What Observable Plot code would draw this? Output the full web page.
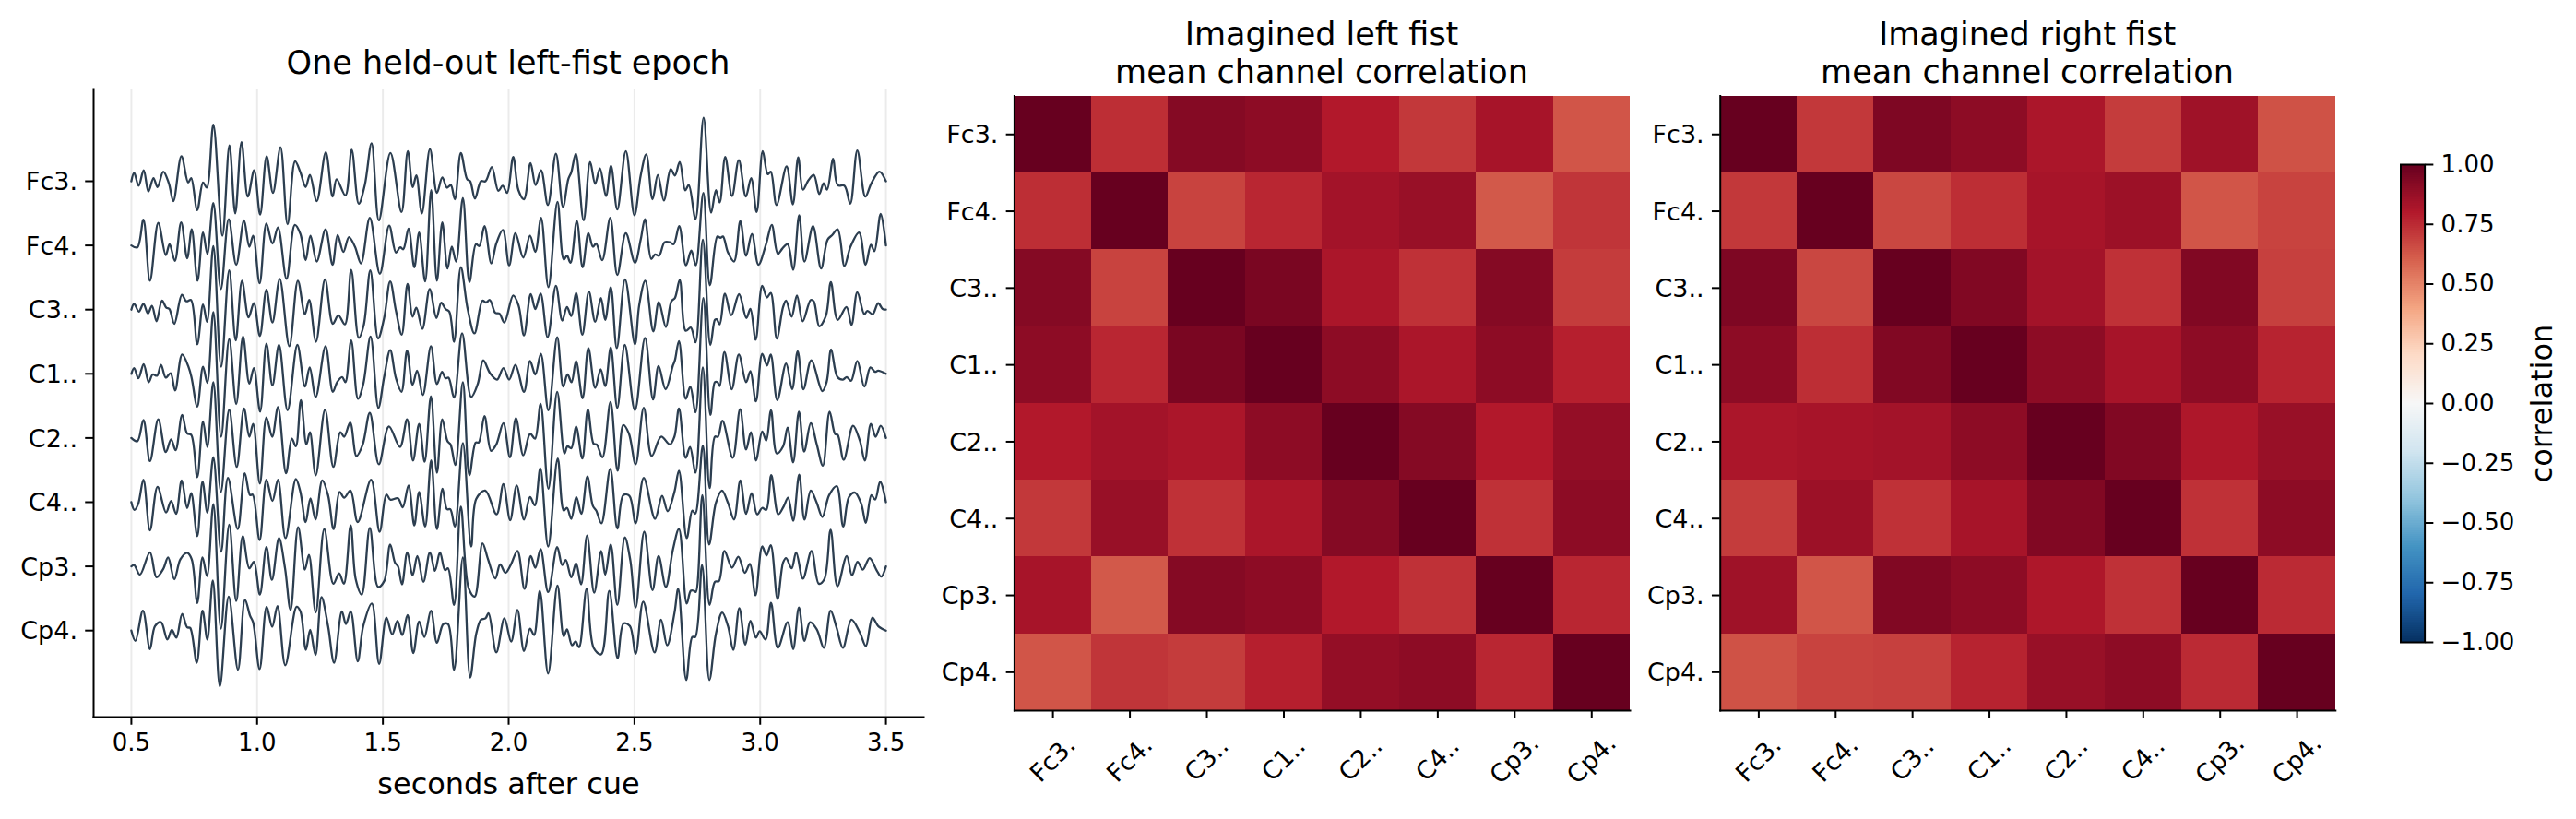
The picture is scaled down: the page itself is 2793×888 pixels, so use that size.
<!DOCTYPE html>
<html><head><meta charset="utf-8">
<script src="https://cdn.jsdelivr.net/npm/d3@7"></script>
<script src="https://cdn.jsdelivr.net/npm/@observablehq/plot@0.6"></script>
<style>
html,body{margin:0;padding:0;background:#fff;overflow:hidden;width:2793px;height:888px;font-family:"DejaVu Sans",sans-serif;color:#000}
.panel{position:absolute;top:0}
.panel svg{display:block;max-width:none;background:transparent;overflow:visible}
.ttl{position:absolute;text-align:center;font-size:35px;line-height:41px;white-space:pre;transform:translateX(-50%)}
</style></head><body>
<script>
const channels = ["Fc3.","Fc4.","C3..","C1..","C2..","C4..","Cp3.","Cp4."];
const secondsTicks = [0.5,1.0,1.5,2.0,2.5,3.0,3.5];
const colorTicks = [1,0.75,0.5,0.25,0,-0.25,-0.5,-0.75,-1];

// Each trace: [seconds after cue, amplitude], 100 amplitude units = one channel spacing
const fc3 = [[.5,0],[.511,13],[.529,-7],[.549,17],[.568,-16],[.588,5],[.604,-9],[.627,15],[.649,-3],[.667,-31],[.699,39],[.726,-2],[.738,5],[.762,-45],[.785,-2],[.8,-10],[.826,88],[.862,-85],[.89,56],[.913,-50],[.938,61],[.963,-24],[.988,17],[1.012,-52],[1.038,39],[1.063,-18],[1.093,53],[1.121,-67],[1.151,31],[1.172,14],[1.193,-9],[1.21,10],[1.237,-31],[1.273,45],[1.3,-24],[1.316,3],[1.351,-22],[1.376,49],[1.404,-35],[1.428,-6],[1.455,59],[1.484,-61],[1.53,44],[1.574,-48],[1.599,47],[1.619,-9],[1.633,9],[1.655,-50],[1.687,50],[1.715,-18],[1.736,6],[1.755,-10],[1.77,-6],[1.786,-28],[1.81,44],[1.835,3],[1.847,0],[1.866,-27],[1.89,0],[1.908,0],[1.933,22],[1.959,-15],[1.976,-7],[1.994,-18],[2.018,38],[2.039,-14],[2.061,-28],[2.087,28],[2.107,-6],[2.129,17],[2.156,-37],[2.188,43],[2.216,-40],[2.237,3],[2.249,14],[2.267,43],[2.298,-61],[2.324,30],[2.344,-4],[2.363,20],[2.387,-23],[2.407,24],[2.432,-44],[2.466,47],[2.5,-53],[2.525,9],[2.547,42],[2.572,-28],[2.593,10],[2.617,-30],[2.644,19],[2.661,9],[2.68,30],[2.702,-14],[2.716,-6],[2.743,-59],[2.775,99],[2.805,-49],[2.824,-14],[2.839,-33],[2.861,38],[2.888,-23],[2.915,33],[2.943,-24],[2.964,5],[2.986,-48],[3.01,47],[3.03,11],[3.042,15],[3.065,-37],[3.105,23],[3.13,-36],[3.151,37],[3.17,-13],[3.191,1],[3.213,10],[3.235,-20],[3.252,-3],[3.266,-13],[3.29,35],[3.308,-6],[3.335,-7],[3.358,-35],[3.386,48],[3.418,-24],[3.442,-3],[3.474,15],[3.5,0]];
const fc4 = [[.5,0],[.524,-3],[.548,40],[.574,-55],[.607,35],[.637,-15],[.652,2],[.673,-24],[.698,36],[.722,-20],[.74,25],[.763,-55],[.785,20],[.802,-13],[.826,66],[.856,-68],[.887,41],[.917,-30],[.948,39],[.969,-2],[.984,15],[1.01,-59],[1.037,34],[1.061,3],[1.083,28],[1.117,-52],[1.15,32],[1.172,18],[1.193,-23],[1.212,15],[1.237,-25],[1.272,25],[1.3,-30],[1.32,16],[1.343,-10],[1.365,13],[1.389,-2],[1.413,-28],[1.448,43],[1.488,-44],[1.525,31],[1.552,-11],[1.569,-3],[1.581,-6],[1.602,26],[1.625,-34],[1.644,20],[1.668,-56],[1.692,86],[1.715,-55],[1.736,36],[1.757,-36],[1.774,-2],[1.791,-25],[1.818,74],[1.844,-57],[1.87,2],[1.883,-1],[1.904,30],[1.931,-28],[1.951,3],[1.977,24],[2.002,-31],[2.027,19],[2.058,-19],[2.085,15],[2.106,-10],[2.129,43],[2.158,-65],[2.194,68],[2.219,-22],[2.232,-16],[2.246,-27],[2.271,38],[2.294,-34],[2.317,19],[2.335,-2],[2.348,3],[2.372,-23],[2.404,43],[2.432,-46],[2.466,19],[2.502,-27],[2.525,9],[2.542,41],[2.567,-21],[2.582,-14],[2.598,-16],[2.62,5],[2.641,5],[2.656,2],[2.678,30],[2.705,-31],[2.726,-8],[2.744,-31],[2.774,82],[2.8,-62],[2.83,14],[2.842,12],[2.852,14],[2.872,-11],[2.896,-25],[2.921,38],[2.944,-16],[2.967,18],[2.993,-30],[3.024,3],[3.046,32],[3.07,-13],[3.088,-5],[3.109,2],[3.131,-38],[3.155,47],[3.176,-25],[3.21,30],[3.242,-36],[3.268,9],[3.286,16],[3.308,25],[3.335,-32],[3.359,-2],[3.393,20],[3.419,-30],[3.44,1],[3.454,-9],[3.479,49],[3.5,0]];
const c3 = [[.5,0],[.511,9],[.53,-3],[.548,9],[.566,-6],[.582,6],[.6,-18],[.622,14],[.639,3],[.651,1],[.671,-22],[.701,23],[.719,13],[.737,15],[.762,-54],[.785,8],[.801,-19],[.826,99],[.857,-89],[.889,61],[.915,-48],[.94,45],[.966,-12],[.987,10],[1.011,-41],[1.037,31],[1.061,-20],[1.09,48],[1.128,-57],[1.162,45],[1.19,-7],[1.207,15],[1.234,-50],[1.27,47],[1.301,-22],[1.323,-9],[1.349,-23],[1.374,62],[1.404,-44],[1.424,-24],[1.45,61],[1.481,-45],[1.505,-13],[1.529,44],[1.552,-2],[1.575,-39],[1.598,40],[1.618,-11],[1.633,3],[1.657,-30],[1.686,32],[1.713,-13],[1.732,11],[1.749,1],[1.764,-3],[1.783,-50],[1.81,66],[1.837,1],[1.864,-37],[1.896,14],[1.91,11],[1.925,15],[1.947,-5],[1.963,-6],[1.983,-20],[2.018,22],[2.039,7],[2.061,-40],[2.088,24],[2.106,1],[2.127,25],[2.155,-43],[2.188,37],[2.213,-17],[2.232,4],[2.249,-10],[2.268,26],[2.293,-39],[2.319,28],[2.344,-19],[2.367,18],[2.384,-16],[2.406,35],[2.43,-60],[2.463,47],[2.502,-54],[2.519,7],[2.543,45],[2.575,-34],[2.597,12],[2.625,-27],[2.647,13],[2.661,18],[2.68,46],[2.704,-33],[2.724,-28],[2.743,-51],[2.772,109],[2.802,-55],[2.82,-16],[2.827,-15],[2.839,-23],[2.86,25],[2.885,-9],[2.916,24],[2.945,-13],[2.961,1],[2.982,-47],[3.008,37],[3.027,19],[3.042,26],[3.066,-45],[3.091,4],[3.103,14],[3.125,-11],[3.146,22],[3.169,-18],[3.201,15],[3.213,13],[3.235,-26],[3.261,-10],[3.281,43],[3.308,-16],[3.343,4],[3.363,-24],[3.386,27],[3.414,-7],[3.426,-2],[3.447,-7],[3.469,10],[3.487,1],[3.5,0]];
const c1 = [[.5,0],[.511,9],[.528,-7],[.549,15],[.569,-13],[.585,-1],[.602,-3],[.618,14],[.637,-6],[.656,1],[.674,-26],[.702,30],[.728,10],[.74,-7],[.762,-51],[.785,11],[.802,-14],[.826,96],[.857,-98],[.889,54],[.917,-47],[.944,58],[.969,-15],[.987,9],[1.012,-59],[1.037,47],[1.061,-18],[1.087,45],[1.121,-57],[1.16,45],[1.19,-20],[1.209,10],[1.233,-36],[1.272,43],[1.301,-28],[1.318,-13],[1.338,-5],[1.351,-13],[1.374,52],[1.401,-39],[1.422,-16],[1.451,58],[1.482,-53],[1.505,-5],[1.529,37],[1.552,-7],[1.574,-28],[1.596,36],[1.618,-17],[1.636,5],[1.659,-33],[1.691,43],[1.715,-16],[1.735,3],[1.749,-7],[1.761,-6],[1.783,-37],[1.815,63],[1.851,-36],[1.877,-16],[1.899,21],[1.926,1],[1.954,-9],[1.979,9],[2.002,-9],[2.027,14],[2.061,-28],[2.085,20],[2.106,-1],[2.128,31],[2.158,-57],[2.193,57],[2.217,-20],[2.234,-1],[2.25,-13],[2.268,20],[2.294,-38],[2.317,40],[2.344,-22],[2.366,7],[2.384,-19],[2.406,41],[2.432,-53],[2.462,45],[2.502,-57],[2.542,56],[2.574,-40],[2.596,12],[2.624,-24],[2.653,13],[2.661,21],[2.677,51],[2.704,-39],[2.722,-20],[2.743,-60],[2.774,118],[2.802,-64],[2.82,-13],[2.83,-13],[2.839,-19],[2.858,34],[2.887,-24],[2.915,30],[2.944,-13],[2.961,4],[2.983,-43],[3.008,31],[3.027,13],[3.042,30],[3.068,-41],[3.103,16],[3.127,-24],[3.149,35],[3.172,-24],[3.203,21],[3.247,-27],[3.264,-13],[3.282,38],[3.307,-5],[3.329,-9],[3.344,-5],[3.361,-11],[3.386,20],[3.414,-20],[3.438,10],[3.457,3],[3.469,5],[3.5,0]];
const c2 = [[.5,0],[.524,-5],[.548,28],[.574,-36],[.607,29],[.637,-22],[.658,-2],[.676,-19],[.702,36],[.722,7],[.738,5],[.762,-61],[.785,26],[.802,-14],[.826,87],[.856,-84],[.889,44],[.919,-45],[.948,46],[.969,2],[.984,22],[1.011,-71],[1.037,32],[1.06,2],[1.083,48],[1.115,-55],[1.138,-1],[1.154,-13],[1.174,59],[1.196,-10],[1.21,9],[1.233,-58],[1.27,44],[1.303,-45],[1.331,9],[1.346,2],[1.37,24],[1.395,-28],[1.42,-10],[1.448,39],[1.484,-41],[1.524,18],[1.568,-14],[1.596,29],[1.62,-35],[1.644,22],[1.666,-37],[1.691,65],[1.715,-54],[1.736,29],[1.757,-5],[1.769,-10],[1.788,-42],[1.818,87],[1.844,-58],[1.869,-7],[1.881,-7],[1.904,34],[1.93,-20],[1.951,-10],[1.979,23],[2.005,-30],[2.029,31],[2.058,-27],[2.082,5],[2.088,6],[2.105,-1],[2.127,53],[2.158,-79],[2.193,72],[2.222,-24],[2.234,-13],[2.249,-16],[2.268,18],[2.293,-32],[2.315,44],[2.338,-9],[2.35,-10],[2.373,-30],[2.405,56],[2.433,-51],[2.456,20],[2.478,7],[2.505,-41],[2.537,47],[2.569,-28],[2.606,2],[2.641,-10],[2.659,2],[2.677,46],[2.704,-31],[2.721,-14],[2.743,-54],[2.772,110],[2.799,-78],[2.82,2],[2.832,2],[2.85,27],[2.891,-31],[2.92,45],[2.944,-18],[2.963,9],[2.983,-35],[3.008,10],[3.024,-4],[3.043,43],[3.066,-24],[3.091,-13],[3.109,16],[3.131,-38],[3.154,41],[3.175,-21],[3.201,23],[3.225,-10],[3.249,-43],[3.276,41],[3.298,6],[3.308,5],[3.332,-34],[3.369,19],[3.396,-4],[3.416,-35],[3.44,22],[3.459,2],[3.479,19],[3.5,0]];
const c4 = [[.5,0],[.512,-12],[.527,-3],[.548,35],[.574,-44],[.604,24],[.638,-16],[.658,2],[.678,-18],[.7,34],[.722,-9],[.738,14],[.762,-53],[.783,32],[.802,-16],[.826,70],[.857,-77],[.884,38],[.923,-42],[.951,45],[.972,11],[.982,12],[1.01,-59],[1.037,35],[1.061,2],[1.083,35],[1.113,-56],[1.154,36],[1.172,16],[1.193,-31],[1.212,6],[1.232,-27],[1.259,34],[1.282,11],[1.304,-42],[1.328,16],[1.346,7],[1.371,18],[1.4,-31],[1.453,35],[1.487,-46],[1.514,12],[1.53,4],[1.56,6],[1.579,-8],[1.602,26],[1.625,-36],[1.644,16],[1.668,-38],[1.692,65],[1.715,-42],[1.737,21],[1.755,-11],[1.768,-11],[1.786,-38],[1.818,92],[1.851,-69],[1.871,5],[1.907,18],[1.952,-19],[1.979,28],[2.006,-28],[2.032,26],[2.061,-27],[2.085,8],[2.104,-5],[2.126,53],[2.157,-69],[2.195,68],[2.219,-13],[2.232,-9],[2.249,-26],[2.269,8],[2.289,-18],[2.313,40],[2.335,-6],[2.348,-13],[2.369,-33],[2.404,52],[2.432,-41],[2.456,11],[2.48,10],[2.505,-33],[2.537,38],[2.582,-26],[2.61,10],[2.632,-14],[2.659,16],[2.677,49],[2.708,-56],[2.73,-13],[2.742,-18],[2.772,88],[2.797,-66],[2.824,-1],[2.848,18],[2.872,-1],[2.896,-27],[2.921,34],[2.944,-18],[2.966,14],[2.988,-19],[3.008,-9],[3.024,-12],[3.044,42],[3.072,-19],[3.093,-7],[3.111,7],[3.131,-29],[3.155,43],[3.176,-27],[3.201,18],[3.225,-1],[3.247,-23],[3.274,11],[3.304,25],[3.33,-38],[3.353,8],[3.377,15],[3.402,-3],[3.42,-32],[3.442,11],[3.457,4],[3.477,32],[3.5,0]];
const cp3 = [[.5,0],[.511,2],[.534,-13],[.574,22],[.6,-17],[.627,-4],[.646,14],[.671,-20],[.695,11],[.722,21],[.74,11],[.762,-57],[.783,14],[.801,-15],[.826,97],[.856,-97],[.889,65],[.917,-54],[.943,47],[.969,-3],[.987,7],[1.011,-44],[1.037,30],[1.059,-21],[1.087,44],[1.111,-3],[1.133,-68],[1.163,61],[1.19,-5],[1.206,18],[1.233,-72],[1.267,58],[1.303,-27],[1.326,-11],[1.345,-27],[1.372,64],[1.392,-20],[1.416,-44],[1.448,60],[1.481,-32],[1.505,-23],[1.529,34],[1.548,6],[1.56,0],[1.576,-28],[1.597,22],[1.618,-14],[1.637,16],[1.661,-24],[1.687,22],[1.707,-7],[1.727,22],[1.747,-6],[1.759,-3],[1.783,-60],[1.81,93],[1.841,-34],[1.865,-47],[1.896,36],[1.918,11],[1.947,-19],[1.966,3],[1.987,-10],[2.008,2],[2.035,24],[2.063,-35],[2.088,16],[2.106,-2],[2.127,27],[2.157,-40],[2.193,30],[2.213,2],[2.227,10],[2.249,-17],[2.268,5],[2.288,-28],[2.312,48],[2.34,-41],[2.368,24],[2.384,-13],[2.406,34],[2.432,-60],[2.462,45],[2.484,9],[2.505,-64],[2.539,54],[2.572,-37],[2.596,16],[2.625,-32],[2.653,26],[2.677,58],[2.708,-58],[2.724,-38],[2.736,-38],[2.744,-40],[2.77,111],[2.799,-60],[2.82,-24],[2.836,-23],[2.858,24],[2.888,-2],[2.913,15],[2.939,-10],[2.959,4],[2.981,-45],[3.008,31],[3.025,17],[3.042,33],[3.069,-51],[3.091,6],[3.103,13],[3.125,-3],[3.143,22],[3.17,-19],[3.204,24],[3.233,-27],[3.255,-20],[3.28,57],[3.307,-31],[3.344,16],[3.365,-14],[3.387,7],[3.408,-5],[3.435,13],[3.463,-6],[3.481,-16],[3.5,0]];
const cp4 = [[.5,0],[.516,-16],[.546,31],[.574,-29],[.594,7],[.618,13],[.643,-14],[.661,1],[.679,-11],[.702,26],[.722,5],[.734,4],[.76,-50],[.783,31],[.802,-14],[.824,78],[.852,-87],[.887,53],[.924,-61],[.952,48],[.972,23],[.984,13],[1.01,-60],[1.038,37],[1.06,6],[1.081,38],[1.112,-54],[1.157,37],[1.172,30],[1.194,-30],[1.211,1],[1.232,-38],[1.256,52],[1.282,7],[1.306,-50],[1.337,30],[1.353,10],[1.372,30],[1.4,-48],[1.422,7],[1.456,42],[1.485,-52],[1.514,20],[1.537,-6],[1.558,15],[1.577,-7],[1.598,24],[1.621,-35],[1.644,14],[1.665,-10],[1.691,31],[1.715,-19],[1.74,10],[1.759,10],[1.783,-61],[1.818,114],[1.847,-73],[1.871,-5],[1.89,17],[1.908,19],[1.92,27],[1.951,-34],[1.983,19],[2.01,-17],[2.035,32],[2.061,-32],[2.085,3],[2.101,-7],[2.124,62],[2.157,-67],[2.194,70],[2.219,-9],[2.232,2],[2.252,-23],[2.266,-17],[2.28,-26],[2.31,65],[2.338,-27],[2.368,-37],[2.4,62],[2.433,-43],[2.457,11],[2.482,7],[2.505,-36],[2.535,45],[2.58,-34],[2.606,17],[2.63,-23],[2.659,27],[2.674,65],[2.706,-77],[2.73,-10],[2.742,-10],[2.769,102],[2.798,-77],[2.824,-5],[2.849,28],[2.872,7],[2.893,-30],[2.917,35],[2.941,-22],[2.961,15],[2.983,-11],[2.998,-1],[3.021,-14],[3.043,43],[3.07,-27],[3.109,13],[3.131,-29],[3.154,36],[3.176,-16],[3.198,13],[3.225,2],[3.253,-27],[3.28,31],[3.304,4],[3.329,-27],[3.363,17],[3.396,-3],[3.42,-24],[3.446,20],[3.469,7],[3.5,0]];
const traces = [fc3,fc4,c3,c1,c2,c4,cp3,cp4];

const corrLeft = [
 [1.00,.74,.92,.90,.80,.71,.83,.63],
 [.74,1.00,.68,.76,.84,.87,.62,.72],
 [.92,.68,1.00,.95,.82,.73,.92,.70],
 [.90,.76,.95,1.00,.90,.82,.90,.78],
 [.80,.84,.82,.90,1.00,.92,.80,.88],
 [.71,.87,.73,.82,.92,1.00,.73,.90],
 [.83,.62,.92,.90,.80,.73,1.00,.76],
 [.63,.72,.70,.78,.88,.90,.76,1.00]];
const corrRight = [
 [1.00,.71,.94,.90,.82,.70,.85,.64],
 [.71,1.00,.67,.74,.83,.86,.63,.68],
 [.94,.67,1.00,.93,.84,.73,.93,.69],
 [.90,.74,.93,1.00,.90,.83,.90,.77],
 [.82,.83,.84,.90,1.00,.93,.81,.87],
 [.70,.86,.73,.83,.93,1.00,.73,.90],
 [.85,.63,.93,.90,.81,.73,1.00,.75],
 [.64,.68,.69,.77,.87,.90,.75,1.00]];

const rdbuStops = [-1,-.8,-.6,-.4,-.2,0,.2,.4,.6,.8,1];
const rdbuColors = ["#053061","#2166ac","#4393c3","#92c5de","#d1e5f0","#f7f7f7","#fddbc7","#f4a582","#d6604d","#b2182b","#67001f"];
const colorScale = {type:"linear",domain:rdbuStops,range:rdbuColors,interpolate:"rgb",clamp:true};

const FONT = '"DejaVu Sans",sans-serif';
const TICK = 8.75, PAD = 8.75, TF = 26, CH = 27;
const baseStyle = {fontFamily:FONT,background:"transparent",overflow:"visible"};

function place(node,left){
  const d=document.createElement("div");d.className="panel";d.style.left=left+"px";d.appendChild(node);document.body.appendChild(d);
}
function title(text,cx,top){
  const d=document.createElement("div");d.className="ttl";d.style.left=cx+"px";d.style.top=top+"px";d.textContent=text;document.body.appendChild(d);
}

// EEG traces
const rows = traces.flatMap((tr,i)=>tr.map(([t,v])=>({t,y:-i*100+v,ch:channels[i]})));
const yVals = channels.map((_,i)=>-i*100);
place(Plot.plot({
  width:1040,height:888,marginLeft:101,marginRight:39,marginTop:96,marginBottom:111,
  style:baseStyle,
  x:{domain:[0.35,3.65],axis:null},
  y:{domain:[-834.8,143.7],axis:null},
  marks:[
    Plot.ruleX(secondsTicks,{stroke:"#000",strokeOpacity:0.08,strokeWidth:2}),
    Plot.line(rows,{x:"t",y:"y",z:"ch",stroke:"#2c3e50",strokeWidth:2.3,curve:"catmull-rom"}),
    Plot.axisX({ticks:secondsTicks,tickFormat:".1f",tickSize:TICK,tickPadding:PAD+1,fontSize:TF,strokeWidth:2,label:null,stroke:"#000",fill:"#000"}),
    Plot.axisY({ticks:yVals,text:null,tickSize:TICK,strokeWidth:2,label:null,stroke:"#000"}),
    Plot.axisY({ticks:yVals,tickFormat:d=>channels[Math.round(-d/100)],tickSize:0,tickPadding:TICK+PAD,dy:1,fontSize:CH,label:null,fill:"#000"}),
    Plot.frame({anchor:"left",stroke:"#000",strokeWidth:2}),
    Plot.frame({anchor:"bottom",stroke:"#000",strokeWidth:2}),
    Plot.text(["seconds after cue"],{frameAnchor:"bottom",dy:73,fontSize:32,lineAnchor:"middle",fill:"#000"})
  ]
}),0);
title("One held-out left-fist epoch",551,48);

function heat(matrix,left,marginLeft,width){
  const cells = matrix.flatMap((r,i)=>r.map((v,j)=>({row:channels[i],col:channels[j],v})));
  return place(Plot.plot({
    width,height:888,marginLeft,marginRight:0,marginTop:103.6,marginBottom:118,
    style:baseStyle,
    x:{domain:channels,padding:0,round:false,axis:null},
    y:{domain:channels,padding:0,round:false,axis:null},
    color:colorScale,
    marks:[
      Plot.cell(cells,{x:"col",y:"row",fill:"v",inset:0,shapeRendering:"crispEdges"}),
      Plot.axisX({text:null,tickSize:TICK,strokeWidth:2,label:null,stroke:"#000"}),
      Plot.axisY({text:null,tickSize:TICK,strokeWidth:2,label:null,stroke:"#000"}),
      Plot.axisY({tickSize:0,tickPadding:TICK+PAD,dy:1,fontSize:CH,label:null,fill:"#000"}),
      Plot.text(channels,{x:d=>d,frameAnchor:"bottom",dy:53,rotate:-45,textAnchor:"middle",lineAnchor:"middle",fontSize:CH,fill:"#000"}),
      Plot.frame({anchor:"left",stroke:"#000",strokeWidth:2}),
      Plot.frame({anchor:"bottom",stroke:"#000",strokeWidth:2})
    ]
  }),left);
}
heat(corrLeft,1010,89.4,757);
title("Imagined left fist\nmean channel correlation",1433,17);
heat(corrRight,1775,89.7,756.8);
title("Imagined right fist\nmean channel correlation",2198,17);

// Colour bar
const ramp = d3.range(256).map(i=>({a:-1+2*i/256,b:-1+2*(i+1)/256,v:-1+2*(i+.5)/256}));
place(Plot.plot({
  width:233,height:888,marginLeft:42.5,marginRight:164.4,marginTop:178,marginBottom:192,
  style:baseStyle,
  x:{domain:[0,1],axis:null},
  y:{domain:[-1,1],axis:null},
  color:colorScale,
  marks:[
    Plot.rect(ramp,{x1:0,x2:1,y1:"a",y2:"b",fill:"v",shapeRendering:"crispEdges"}),
    Plot.axisY({anchor:"right",ticks:colorTicks,tickFormat:".2f",tickSize:TICK,tickPadding:PAD,fontSize:TF,strokeWidth:2,label:null,stroke:"#000",fill:"#000"}),
    Plot.frame({stroke:"#000",strokeWidth:2}),
    Plot.text(["correlation"],{frameAnchor:"right",dx:127.4,rotate:-90,textAnchor:"middle",lineAnchor:"middle",fontSize:32,fill:"#000"})
  ]
}),2560);
</script>
</body></html>
